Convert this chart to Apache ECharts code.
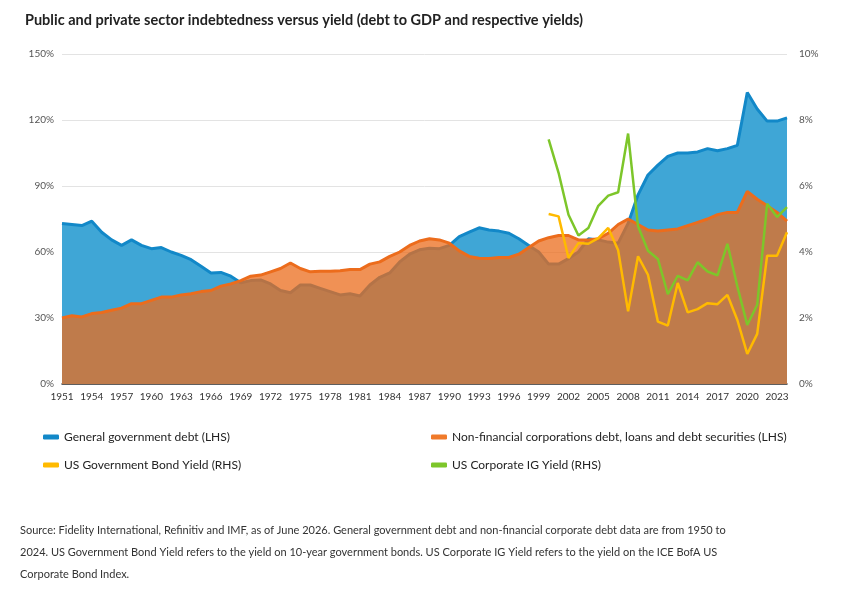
<!DOCTYPE html>
<html><head><meta charset="utf-8">
<script src="https://cdn.jsdelivr.net/npm/echarts@6/dist/echarts.min.js"></script>
<style>html,body{margin:0;padding:0;background:#fff}#c{width:852px;height:593px}</style>
</head><body><div id="c"></div>
<script>
const years = [];
for (let y = 1951; y <= 2024; y++) years.push(String(y));
const govDebt = [73,72.5,72,74,69,65.5,63,65.5,63,61.5,62,60,58.5,56.5,53.5,50.5,50.7,49,46,47,47.3,45.5,42.5,41.5,45,45,43.5,42,40.5,41,40,45,48.5,50.5,55.5,59,61,61.7,61.5,63,67,69,71,70,69.5,68.5,66,63,60,54.5,54.5,57,60,66,65.5,64.5,64,73,86,95,99.5,103.5,105,105,105.5,107,106,107,108.5,132.5,125,119.5,119.5,121];
const corpDebt = [30,31,30.5,32,32.5,33.5,34.5,36.5,36.5,38,39.5,39.5,40.5,41,42,42.5,44.5,45.5,47,49,49.5,51,52.5,55,52.5,51,51.2,51.2,51.5,52,52,54.5,55.5,58,60,63,65,66,65.5,64,60.5,58,57.2,57,57.5,57.5,59,62,65,66.5,67.5,67.5,65.5,65.5,66,68.5,72.5,75,72.5,70,69.5,70,70.5,72,73.5,75,77,78,78,87.5,84,81,78,74];
const pad = new Array(49).fill(null); // 1951-1999
const govYield = pad.concat([5.15,5.08,3.82,4.27,4.25,4.42,4.73,4.05,2.2,3.87,3.31,1.89,1.77,3.06,2.17,2.27,2.45,2.42,2.7,1.94,0.91,1.52,3.89,3.89,4.6]);
const corpYield = pad.concat([7.41,6.4,5.13,4.5,4.73,5.4,5.71,5.81,7.59,4.78,4.04,3.79,2.72,3.28,3.14,3.69,3.41,3.29,4.25,2.96,1.79,2.4,5.46,5.06,5.36]);

const F = 'Lato, "Noto Sans", sans-serif';
const chart = echarts.init(document.getElementById('c'));
const leg = (name, left, top) => ({data:[name], left, top, itemWidth:16, itemHeight:5, icon:'roundRect', itemGap:0,
  textStyle:{fontFamily:F, fontSize:12, color:'#222'}});
chart.setOption({
  animation:false,
  title:{text:'Public and private sector indebtedness versus yield (debt to GDP and respective yields)', left:20, top:8,
    textStyle:{fontFamily:F, fontSize:14.5, fontWeight:'bold', color:'#222'}},
  legend:[leg('General government debt (LHS)',38,426), leg('Non-financial corporations debt, loans and debt securities (LHS)',426,426),
          leg('US Government Bond Yield (RHS)',38,454), leg('US Corporate IG Yield (RHS)',426,454)],
  grid:{left:62, right:65, top:54, bottom:209},
  xAxis:{type:'category', data:years, boundaryGap:false,
    axisLine:{lineStyle:{color:'#333', width:1.5}}, axisTick:{show:false},
    axisLabel:{interval:2, fontFamily:F, fontSize:10, color:'#333', margin:8}},
  yAxis:[{type:'value', min:0, max:150, interval:30,
    axisLabel:{formatter:'{value}%', fontFamily:F, fontSize:10, color:'#555'},
    splitLine:{lineStyle:{color:'#e3e3e3'}}, axisLine:{show:false}, axisTick:{show:false}},
   {type:'value', min:0, max:10, interval:2, position:'right',
    axisLabel:{formatter:'{value}%', fontFamily:F, fontSize:10, color:'#555', margin:12},
    splitLine:{show:false}, axisLine:{show:false}, axisTick:{show:false}}],
  series:[
    {name:'General government debt (LHS)', type:'line', data:govDebt, symbol:'none', itemStyle:{color:'#1288c8'},
      lineStyle:{color:'#1288c8', width:3}, areaStyle:{color:'#3fa6d6', opacity:1}, z:1},
    {name:'Non-financial corporations debt, loans and debt securities (LHS)', type:'line', data:corpDebt, symbol:'none',
      itemStyle:{color:'#f07a2a'}, lineStyle:{color:'#ec6c1c', width:3}, areaStyle:{color:'rgb(235,108,28)', opacity:0.75}, z:2},
    {name:'US Government Bond Yield (RHS)', type:'line', yAxisIndex:1, data:govYield, symbol:'none',
      itemStyle:{color:'#ffba00'}, lineStyle:{color:'#ffba00', width:2.5}, z:3},
    {name:'US Corporate IG Yield (RHS)', type:'line', yAxisIndex:1, data:corpYield, symbol:'none',
      itemStyle:{color:'#7dc62a'}, lineStyle:{color:'#7dc62a', width:2.5}, z:4}
  ],
  graphic:[{type:'text', left:20, top:519, style:{
    text:'Source: Fidelity International, Refinitiv and IMF, as of June 2026. General government debt and non-financial corporate debt data are from 1950 to\n2024. US Government Bond Yield refers to the yield on 10-year government bonds. US Corporate IG Yield refers to the yield on the ICE BofA US\nCorporate Bond Index.',
    font:'11px '+F, fill:'#333', lineHeight:22}}]
});
</script></body></html>
